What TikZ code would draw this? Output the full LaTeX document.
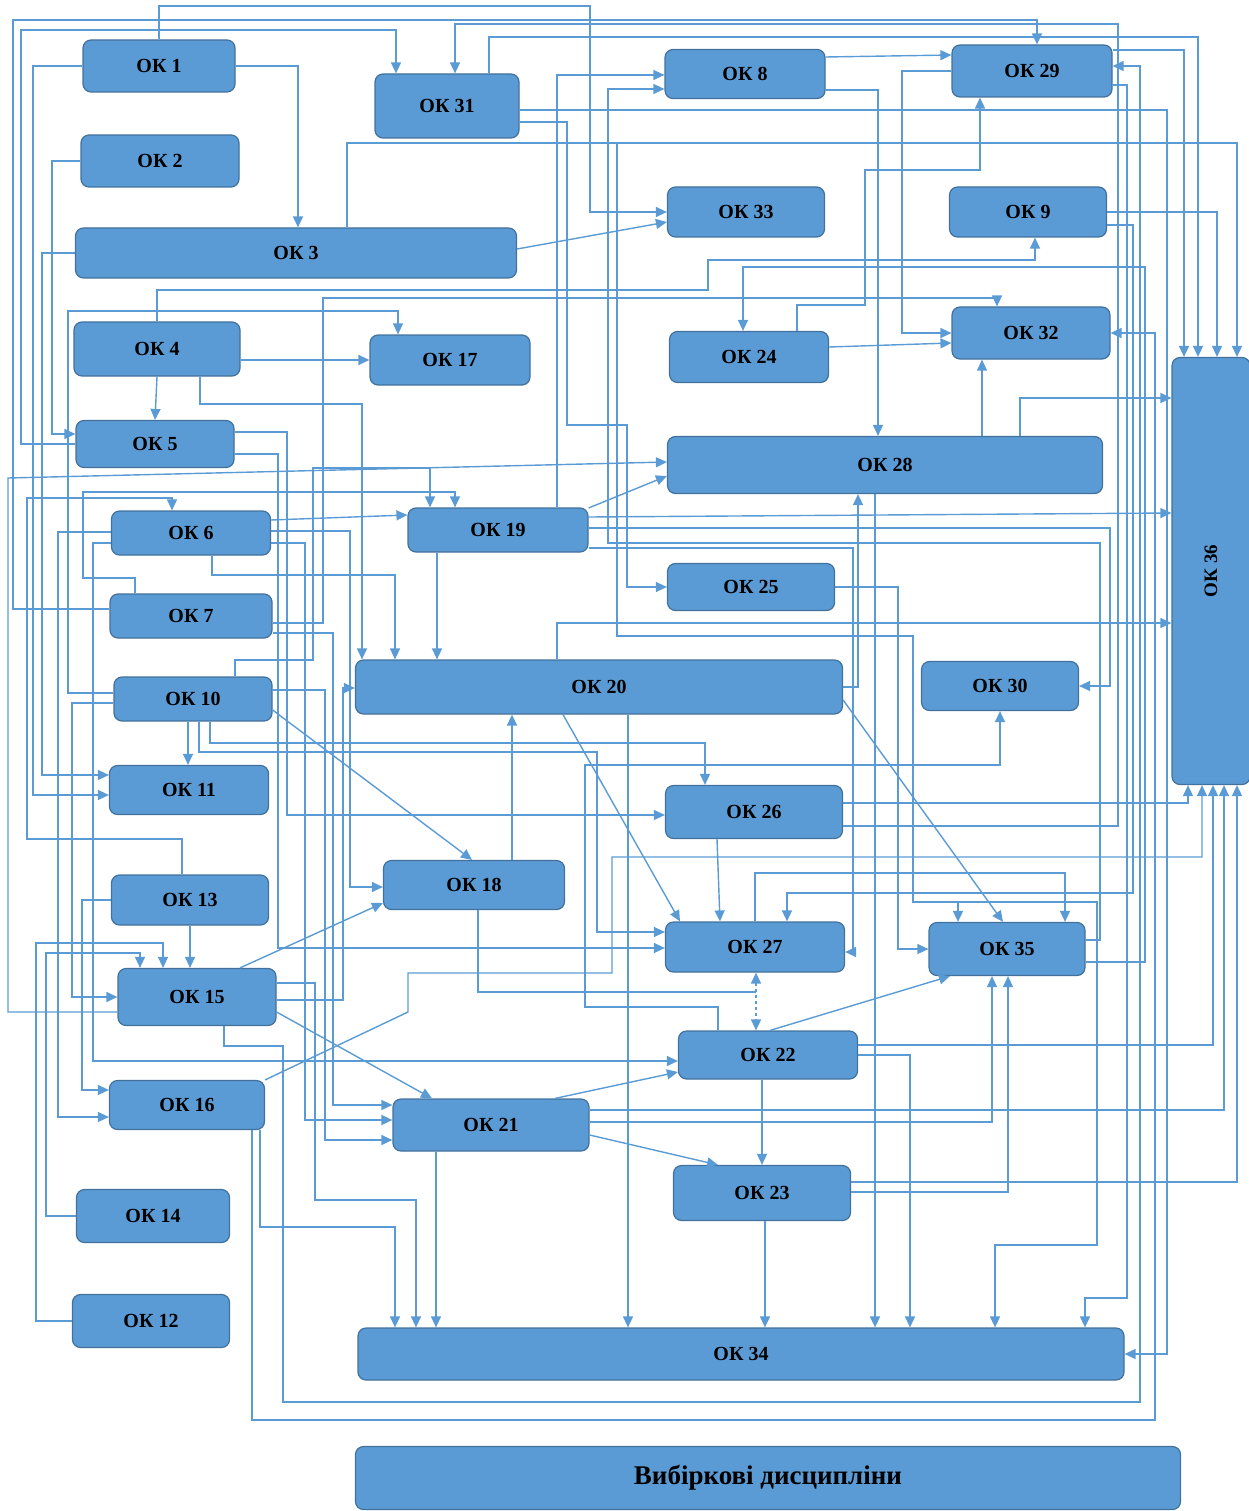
\documentclass[tikz,border=0pt]{standalone}
\usepackage{fontspec}
\setmainfont{Liberation Serif}
\usepackage{graphicx}
\usetikzlibrary{arrows.meta}
\definecolor{okfill}{HTML}{5B9BD5}
\definecolor{okedge}{HTML}{41719C}
\definecolor{okline}{HTML}{5B9BD5}
\newcommand{\okfont}{\fontsize{20}{24}\selectfont\bfseries}

\begin{document}
\begin{tikzpicture}[x=1pt,y=-1pt,
	okbox/.style 2 args={rectangle,rounded corners=8pt,draw=okedge,fill=okfill,line width=1.2pt,
		inner sep=0pt,font=\okfont,text=black,minimum width=#1,minimum height=#2},
	link/.style={draw=okline,line width=1.4pt,-{Triangle[length=11pt,width=10pt]}},
	plain/.style={draw=okline,line width=1.4pt}]
	\useasboundingbox (0,0) rectangle (1248,1511);
	\begin{scope}
		\node[okbox={152}{52}] (ok1) at (159,66) {ОК 1};
		\node[okbox={144}{64}] (ok31) at (447,106) {ОК 31};
		\node[okbox={160}{49}] (ok8) at (745,74) {ОК 8};
		\node[okbox={160}{52}] (ok29) at (1032,71) {ОК 29};
		\node[okbox={158}{52}] (ok2) at (160,161) {ОК 2};
		\node[okbox={441}{50}] (ok3) at (296,253) {ОК 3};
		\node[okbox={157}{50}] (ok33) at (746,212) {ОК 33};
		\node[okbox={157}{50}] (ok9) at (1028,212) {ОК 9};
		\node[okbox={166}{54}] (ok4) at (157,349) {ОК 4};
		\node[okbox={160}{50}] (ok17) at (450,360) {ОК 17};
		\node[okbox={159}{51}] (ok24) at (749,357) {ОК 24};
		\node[okbox={158}{52}] (ok32) at (1031,333) {ОК 32};
		\node[okbox={78}{427}] (ok36) at (1211,571) {\rotatebox{90}{\fontsize{19}{22}\selectfont ОК 36}};
		\node[okbox={158}{47}] (ok5) at (155,444) {ОК 5};
		\node[okbox={435}{57}] (ok28) at (885,465) {ОК 28};
		\node[okbox={159}{44}] (ok6) at (191,533) {ОК 6};
		\node[okbox={180}{44}] (ok19) at (498,530) {ОК 19};
		\node[okbox={167}{47}] (ok25) at (751,587) {ОК 25};
		\node[okbox={162}{44}] (ok7) at (191,616) {ОК 7};
		\node[okbox={487}{54}] (ok20) at (599,687) {ОК 20};
		\node[okbox={157}{49}] (ok30) at (1000,686) {ОК 30};
		\node[okbox={158}{44}] (ok10) at (193,699) {ОК 10};
		\node[okbox={159}{49}] (ok11) at (189,790) {ОК 11};
		\node[okbox={177}{53}] (ok26) at (754,812) {ОК 26};
		\node[okbox={157}{50}] (ok13) at (190,900) {ОК 13};
		\node[okbox={181}{49}] (ok18) at (474,885) {ОК 18};
		\node[okbox={179}{50}] (ok27) at (755,947) {ОК 27};
		\node[okbox={156}{53}] (ok35) at (1007,949) {ОК 35};
		\node[okbox={158}{57}] (ok15) at (197,997) {ОК 15};
		\node[okbox={179}{48}] (ok22) at (768,1055) {ОК 22};
		\node[okbox={155}{49}] (ok16) at (187,1105) {ОК 16};
		\node[okbox={196}{52}] (ok21) at (491,1125) {ОК 21};
		\node[okbox={177}{55}] (ok23) at (762,1193) {ОК 23};
		\node[okbox={153}{53}] (ok14) at (153,1216) {ОК 14};
		\node[okbox={157}{53}] (ok12) at (151,1321) {ОК 12};
		\node[okbox={766}{52}] (ok34) at (741,1354) {ОК 34};
		\node[okbox={825}{63}] (vib) at (768,1478) {\fontsize{27}{30}\selectfont Вибіркові дисципліни};
	\end{scope}
	% upper part
	\draw[link] (ok1.north) |- (590,6) |- (ok33.west);
	\draw[link] (ok1.east) -| (ok3.north -| 298,0);
	\draw[link] (ok7.west |- 0,609) -| (13,20) -| (ok29.north -| 1037,0);
	\draw[link] (ok5.west) -| (21,30) -| (ok31.north -| 396,0);
	\draw[link] (ok1.west) -| (33,795) -- (ok11.west |- 0,795);
	\draw[link] (ok3.west) -| (42,775) -- (ok11.west |- 0,775);
	\draw[link] (ok2.west) -| (52,434) -- (ok5.west |- 0,434);
	\draw[link] (ok10.west |- 0,693) -| (68,311) -| (ok17.north -| 398,0);
	\draw[link] (ok4.north) |- (708,290) |- (1035,260) -- (ok9.south -| 1035,0);
	\draw[link] (ok7.east |- 0,623) -| (323,298) -| (ok32.north -| 997,0);
	\draw[link] (ok4.east |- 0,360) -- (ok17.west);
	\draw[link] (ok4.south) -- (ok5.north);
	\draw[link] (ok4.south -| 200,0) |- (362,404) -- (ok20.north -| 362,0);
	\draw[link] (ok3.north -| 347,0) |- (1237,143) -- (ok36.north -| 1237,0);
	\draw[link] (ok31.north -| 489,0) |- (1198,37) -- (ok36.north -| 1198,0);
	\draw[link] (ok29.east |- 0,50) -| (ok36.north -| 1184,0);
	\draw[link] (ok9.east) -| (ok36.north -| 1217,0);
	\draw[link] (ok3.east |- 0,249) -- (ok33.west |- 0,222);
	\draw[link] (ok31.east |- 0,122) -| (567,425) -| (627,587) -- (ok25.west);
	\draw[link] (ok19.north -| 557,0) |- (ok8.west |- 0,75);
	\draw[link] (ok8.east |- 0,57) -- (ok29.west |- 0,55);
	\draw[link] (ok8.east |- 0,90) -| (ok28.north -| 878,0);
	\draw[link] (ok29.west) -| (902,333) -- (ok32.west);
	\draw[link] (ok24.east |- 0,347) -- (ok32.west |- 0,343);
	\draw[link] (ok24.north -| 797,0) |- (865,305) |- (980,170) -- (ok29.south -| 980,0);
	\draw[link] (ok28.north -| 982,0) -- (ok32.south -| 982,0);
	\draw[link] (ok28.north -| 1020,0) |- (ok36.west |- 0,398);
	% middle part
	\draw[link] (ok19.east |- 0,508) -- (ok28.west |- 0,476);
	\draw[link] (ok15.west |- 0,1012) -| (8,478) -- (ok28.west |- 0,462);
	\draw[link] (ok19.south -| 437,0) -- (ok20.north -| 437,0);
	\draw[link] (ok7.north -| 135,0) |- (83,578) |- (455,492) -- (ok19.north -| 455,0);
	\draw[link] (ok10.north -| 235,0) |- (313,660) |- (430,468) -- (ok19.north -| 430,0);
	\draw[link] (ok13.north -| 182,0) |- (27,839) |- (172,498) -- (ok6.north -| 172,0);
	\draw[link] (ok6.east |- 0,520) -- (ok19.west |- 0,515);
	\draw[link] (ok6.south -| 212,0) |- (395,575) -- (ok20.north -| 395,0);
	\draw[link] (ok6.west |- 0,543) -| (93,1061) -- (ok22.west |- 0,1061);
	\draw[link] (ok6.west |- 0,532) -| (58,1117) -- (ok16.west |- 0,1117);
	\draw[link] (ok13.west) -| (82,1090) -- (ok16.west |- 0,1090);
	\draw[link] (ok14.west) -| (46,953) -| (ok15.north -| 140,0);
	\draw[link] (ok12.west) -| (36,943) -| (ok15.north -| 163,0);
	\draw[link] (ok13.south -| 190,0) -- (ok15.north -| 190,0);
	\draw[link] (ok10.west |- 0,703) -| (72,997) -- (ok15.west);
	\draw[link] (ok10.south -| 188,0) -- (ok11.north -| 188,0);
	\draw[link] (ok10.south -| 210,0) |- (705,743) -- (ok26.north -| 705,0);
	\draw[link] (ok10.south -| 199,0) |- (597,752) |- (ok27.west |- 0,932);
	\draw[link] (ok22.north -| 718,0) |- (585,1007) |- (1000,765) -- (ok30.south -| 1000,0);
	\draw[link] (ok10.east |- 0,710) -- (ok18.north -| 472,0);
	\draw[link] (ok15.east |- 0,1000) -| (343,688) -- (ok20.west |- 0,688);
	\draw[link] (ok5.east |- 0,432) -| (287,815) -- (ok26.west |- 0,815);
	\draw[link] (ok5.east |- 0,454) -| (278,948) -- (ok27.west |- 0,948);
	\draw[link] (ok6.east |- 0,531) -| (350,887) -- (ok18.west |- 0,887);
	\draw[link] (ok6.east |- 0,543) -| (305,1120) -- (ok21.west |- 0,1120);
	\draw[link] (ok7.east |- 0,633) -| (333,1105) -- (ok21.west |- 0,1105);
	\draw[link] (ok10.east |- 0,690) -| (325,1140) -- (ok21.west |- 0,1140);
	\draw[link] (ok20.north -| 557,0) |- (ok36.west |- 0,623);
	\draw[link] (ok20.south -| 563,0) -- (ok27.north -| 680,0);
	\draw[link] (ok20.east |- 0,700) -- (ok35.north -| 1003,0);
	\draw[link] (ok20.south -| 628,0) -- (ok34.north -| 628,0);
	\draw[link] (ok20.east |- 0,687) -| (ok28.south -| 858,0);
	\draw[link] (ok18.north -| 512,0) -- (ok20.south -| 512,0);
	\coordinate (m18) at (756,992);
	\draw[plain] (ok18.south -| 478,0) |- (m18);
	\draw[link,dashed,{Triangle[length=11pt,width=10pt]}-{Triangle[length=11pt,width=10pt]}] (ok27.south -| 756,0) -- (ok22.north -| 756,0);
	\draw[link] (ok15.north -| 240,0) -- (ok18.west |- 0,903);
	\draw[link] (ok15.east |- 0,1012) -- (ok21.north -| 432,0);
	\draw[link] (ok16.north east) -- (408,1012) |- (612,973) |- (1202,857) -- (ok36.south -| 1202,0);
	% lower part
	\draw[link] (ok21.north -| 555,0) -- (ok22.west |- 0,1072);
	\draw[link] (ok21.east |- 0,1135) -- (ok23.north -| 718,0);
	\draw[link] (ok21.south -| 436,0) -- (ok34.north -| 436,0);
	\draw[link] (ok22.north -| 770,0) -- (ok35.south -| 950,0);
	\draw[link] (ok22.south -| 762,0) -- (ok23.north -| 762,0);
	\draw[link] (ok23.south -| 765,0) -- (ok34.north -| 765,0);
	\draw[link] (ok26.south -| 717,0) -- (ok27.north -| 720,0);
	\draw[link] (ok16.south -| 260,0) |- (395,1227) -- (ok34.north -| 395,0);
	\draw[link] (ok15.east |- 0,983) -| (315,1200) -| (ok34.north -| 416,0);
	\draw[link] (ok15.south -| 224,0) |- (283,1046) |- (1140,1402) |- (ok29.east |- 0,66);
	\draw[link] (ok16.south -| 252,0) |- (1155,1420) |- (ok32.east);
	\draw[link] (ok31.east |- 0,110) -| (1167,1354) -- (ok34.east);
	\draw[link] (ok26.east |- 0,803) -| (ok36.south -| 1188,0);
	\draw[link] (ok22.east |- 0,1045) -| (ok36.south -| 1213,0);
	\draw[link] (ok21.east |- 0,1110) -| (ok36.south -| 1224,0);
	\draw[link] (ok23.east |- 0,1182) -| (ok36.south -| 1237,0);
	\draw[link] (ok21.east |- 0,1122) -| (ok35.south -| 992,0);
	\draw[link] (ok23.east |- 0,1192) -| (ok35.south -| 1008,0);
	\draw[link] (ok22.east) -| (ok34.north -| 910,0);
	\draw[link] (ok28.south -| 875,0) -- (ok34.north -| 875,0);
	\draw[link] (ok25.east) -| (898,949) -- (ok35.west);
	\draw[link] (ok19.east |- 0,548) -| (853,952) -- (ok27.east |- 0,952);
	\draw[link] (ok19.east |- 0,528) -| (1110,686) -- (ok30.east);
	\draw[link] (ok19.east |- 0,517) -- (ok36.west |- 0,513);
	\draw[link] (ok27.north -| 755,0) |- (1065,873) -- (ok35.north -| 1065,0);
	\coordinate (t3) at (617,143);
	\draw[link] (t3) |- (913,636) |- (1097,902) |- (995,1245) -- (ok34.north -| 995,0);
	\coordinate (j35) at (958,902);
	\draw[link] (j35) -- (ok35.north -| 958,0);
	\draw[link] (ok29.east |- 0,85) -| (1127,1298) -| (ok34.north -| 1085,0);
	\draw[link] (ok26.east |- 0,826) -| (1118,24) -| (ok31.north -| 455,0);
	\draw[link] (ok9.east |- 0,225) -| (1133,893) -| (ok27.north -| 787,0);
	\draw[link] (ok35.east |- 0,962) -| (1145,267) -| (ok24.north -| 743,0);
	\draw[link] (ok35.east |- 0,940) -| (1100,543) -| (608,89) -- (ok8.west |- 0,89);
\end{tikzpicture}
\end{document}
